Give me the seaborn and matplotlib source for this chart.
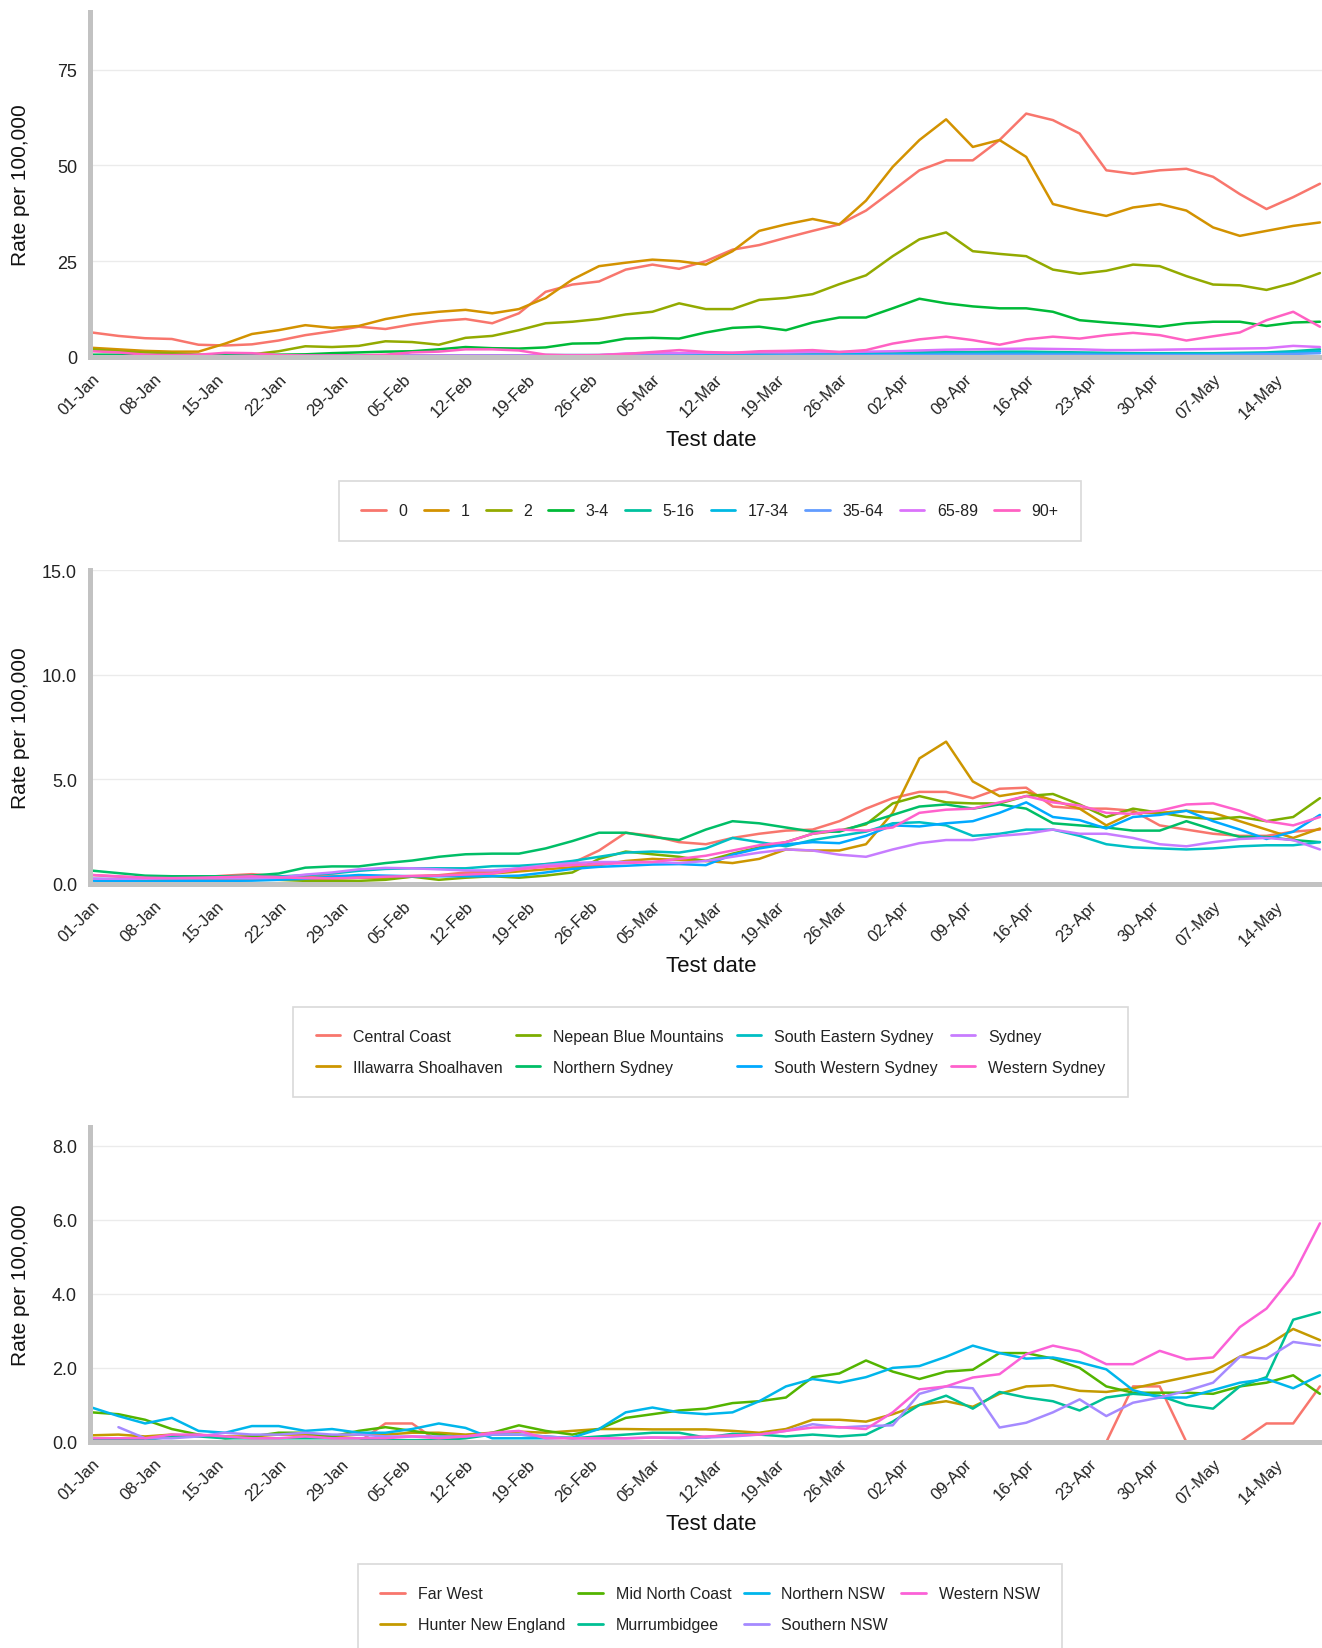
import numpy as np
import pandas as pd
import matplotlib
matplotlib.use('Agg')
import matplotlib.pyplot as plt
import matplotlib.dates as mdates
from matplotlib.ticker import FormatStrFormatter
import seaborn as sns

# ---------------- data ----------------
dates = pd.date_range('2022-01-01', periods=47, freq='3D')
tick_dates = pd.date_range('2022-01-01', '2022-05-14', freq='7D')

age_groups = ['0', '1', '2', '3-4', '5-16', '17-34', '35-64', '65-89', '90+']
age_0 = [6.4, 5.5, 4.9, 4.7, 3.2, 3.0, 3.3, 4.3, 5.7, 6.7,
         7.9, 7.3, 8.5, 9.4, 9.9, 8.8, 11.4, 17.0, 18.9, 19.7,
         22.8, 24.1, 23.0, 25.0, 28.0, 29.2, 31.1, 32.9, 34.6, 38.2,
         43.4, 48.7, 51.3, 51.3, 56.6, 63.5, 61.8, 58.3, 48.7, 47.8,
         48.7, 49.1, 47.0, 42.5, 38.6, 41.7, 45.2]
age_1 = [2.4, 2.0, 1.6, 1.4, 1.4, 3.5, 6.0, 7.0, 8.3, 7.6,
         8.1, 9.9, 11.1, 11.8, 12.3, 11.4, 12.5, 15.4, 20.2, 23.7,
         24.6, 25.4, 25.0, 24.1, 27.6, 32.9, 34.6, 36.0, 34.6, 40.8,
         49.6, 56.6, 62.0, 54.8, 56.6, 52.2, 39.9, 38.2, 36.8, 39.0,
         39.9, 38.2, 33.8, 31.6, 32.9, 34.2, 35.1]
age_2 = [2.0, 1.5, 1.2, 1.0, 0.6, 0.5, 0.7, 1.5, 2.8, 2.6,
         2.9, 4.1, 3.9, 3.2, 5.0, 5.5, 7.0, 8.8, 9.2, 9.9,
         11.1, 11.8, 14.0, 12.5, 12.5, 14.9, 15.4, 16.4, 19.0, 21.3,
         26.3, 30.7, 32.5, 27.6, 26.9, 26.3, 22.8, 21.7, 22.5, 24.1,
         23.7, 21.1, 18.9, 18.7, 17.5, 19.3, 21.9]
age_3_4 = [0.6, 0.6, 0.5, 0.5, 0.5, 0.5, 0.5, 0.6, 0.7, 1.0,
           1.2, 1.4, 1.5, 2.0, 2.6, 2.3, 2.2, 2.5, 3.5, 3.6,
           4.8, 5.0, 4.8, 6.4, 7.6, 7.9, 7.0, 9.0, 10.3, 10.3,
           12.7, 15.2, 14.0, 13.2, 12.7, 12.7, 11.8, 9.6, 9.0, 8.5,
           7.9, 8.8, 9.2, 9.2, 8.1, 9.0, 9.2]
age_5_16 = [0.3, 0.3, 0.3, 0.3, 0.3, 0.3, 0.3, 0.3, 0.3, 0.3,
            0.3, 0.4, 0.4, 0.4, 0.4, 0.4, 0.4, 0.5, 0.5, 0.5,
            0.6, 0.6, 0.7, 0.7, 0.8, 0.8, 0.9, 0.9, 1.0, 1.0,
            1.1, 1.2, 1.3, 1.3, 1.4, 1.4, 1.3, 1.2, 1.1, 1.0,
            1.0, 1.0, 1.0, 1.1, 1.2, 1.5, 2.0]
age_17_34 = [0.2, 0.2, 0.2, 0.2, 0.2, 0.2, 0.2, 0.2, 0.2, 0.2,
             0.2, 0.3, 0.3, 0.3, 0.3, 0.3, 0.3, 0.4, 0.4, 0.4,
             0.4, 0.4, 0.5, 0.5, 0.5, 0.5, 0.6, 0.6, 0.7, 0.7,
             0.8, 0.8, 0.9, 0.9, 1.0, 1.0, 0.9, 0.9, 0.8, 0.8,
             0.8, 0.8, 0.8, 0.9, 1.0, 1.2, 1.5]
age_35_64 = [0.1, 0.1, 0.1, 0.1, 0.1, 0.1, 0.1, 0.1, 0.1, 0.1,
             0.1, 0.2, 0.2, 0.2, 0.2, 0.2, 0.2, 0.2, 0.2, 0.2,
             0.3, 0.3, 0.3, 0.3, 0.3, 0.3, 0.4, 0.4, 0.4, 0.4,
             0.5, 0.5, 0.6, 0.6, 0.6, 0.6, 0.6, 0.6, 0.5, 0.5,
             0.5, 0.5, 0.5, 0.6, 0.7, 0.8, 1.0]
age_65_89 = [0.2, 0.2, 0.2, 0.2, 0.2, 0.2, 0.3, 0.3, 0.3, 0.3,
             0.3, 0.4, 0.4, 0.4, 0.4, 0.4, 0.4, 0.5, 0.5, 0.5,
             0.9, 1.0, 1.0, 1.1, 1.1, 1.2, 1.2, 1.3, 1.3, 1.4,
             1.5, 1.7, 1.9, 2.0, 2.1, 2.2, 2.1, 2.0, 1.8, 1.8,
             1.9, 2.0, 2.1, 2.2, 2.3, 2.9, 2.6]
age_90p = [1.5, 1.2, 0.6, 0.5, 0.6, 1.1, 1.0, 0.5, 0.4, 0.4,
           0.4, 0.6, 1.2, 1.4, 2.0, 2.0, 1.7, 0.6, 0.4, 0.5,
           0.8, 1.3, 1.8, 1.3, 1.1, 1.5, 1.6, 1.8, 1.3, 1.8,
           3.5, 4.6, 5.3, 4.4, 3.2, 4.6, 5.3, 4.8, 5.7, 6.3,
           5.7, 4.3, 5.4, 6.4, 9.6, 11.8, 7.9]

metro_districts = ['Central Coast', 'Illawarra Shoalhaven', 'Nepean Blue Mountains',
                   'Northern Sydney', 'South Eastern Sydney', 'South Western Sydney',
                   'Sydney', 'Western Sydney']
central_coast = [0.43, 0.35, 0.30, 0.28, 0.32, 0.40, 0.47, 0.38, 0.33, 0.40,
                 0.35, 0.35, 0.38, 0.42, 0.55, 0.60, 0.75, 0.95, 1.00, 1.60,
                 2.45, 2.30, 2.00, 1.90, 2.20, 2.40, 2.55, 2.60, 3.00, 3.60,
                 4.10, 4.40, 4.40, 4.10, 4.55, 4.60, 3.70, 3.60, 3.60, 3.50,
                 2.80, 2.60, 2.40, 2.30, 2.30, 2.50, 2.60]
illawarra = [0.20, 0.20, 0.15, 0.20, 0.20, 0.25, 0.25, 0.20, 0.20, 0.25,
             0.30, 0.30, 0.35, 0.40, 0.45, 0.50, 0.60, 0.70, 0.80, 0.90,
             1.10, 1.20, 1.15, 1.10, 1.00, 1.20, 1.65, 1.60, 1.60, 1.90,
             3.40, 6.00, 6.80, 4.90, 4.20, 4.40, 4.00, 3.60, 2.80, 3.40,
             3.40, 3.50, 3.40, 3.00, 2.60, 2.20, 2.65]
nepean = [0.20, 0.18, 0.15, 0.15, 0.15, 0.18, 0.20, 0.20, 0.15, 0.15,
          0.15, 0.20, 0.35, 0.20, 0.30, 0.37, 0.30, 0.40, 0.55, 1.20,
          1.55, 1.42, 1.30, 1.10, 1.45, 1.75, 2.00, 2.40, 2.55, 2.85,
          3.85, 4.20, 3.90, 3.85, 3.85, 4.20, 4.30, 3.80, 3.20, 3.60,
          3.40, 3.20, 3.10, 3.20, 3.00, 3.20, 4.10]
northern_sydney = [0.64, 0.52, 0.40, 0.37, 0.37, 0.37, 0.40, 0.50, 0.78, 0.84,
                   0.84, 1.00, 1.12, 1.30, 1.42, 1.45, 1.45, 1.70, 2.05, 2.45,
                   2.45, 2.25, 2.10, 2.60, 3.00, 2.90, 2.70, 2.50, 2.50, 2.90,
                   3.30, 3.70, 3.80, 3.60, 3.80, 3.60, 2.90, 2.80, 2.70, 2.55,
                   2.55, 3.00, 2.60, 2.25, 2.25, 2.10, 2.00]
south_eastern = [0.25, 0.22, 0.22, 0.25, 0.27, 0.30, 0.32, 0.36, 0.42, 0.50,
                 0.63, 0.72, 0.75, 0.75, 0.75, 0.85, 0.87, 0.95, 1.10, 1.30,
                 1.50, 1.55, 1.50, 1.70, 2.20, 2.00, 1.80, 2.10, 2.30, 2.50,
                 2.90, 2.95, 2.80, 2.30, 2.40, 2.60, 2.60, 2.30, 1.90, 1.75,
                 1.70, 1.65, 1.70, 1.80, 1.85, 1.85, 2.00]
south_western = [0.16, 0.14, 0.12, 0.13, 0.14, 0.15, 0.16, 0.20, 0.25, 0.35,
                 0.43, 0.40, 0.37, 0.37, 0.37, 0.37, 0.40, 0.55, 0.72, 0.82,
                 0.87, 0.93, 0.95, 0.90, 1.40, 1.70, 1.90, 2.00, 1.95, 2.30,
                 2.80, 2.75, 2.90, 3.00, 3.40, 3.90, 3.20, 3.05, 2.65, 3.20,
                 3.30, 3.50, 3.00, 2.60, 2.15, 2.50, 3.30]
sydney = [0.25, 0.25, 0.25, 0.27, 0.27, 0.27, 0.27, 0.30, 0.45, 0.55,
          0.70, 0.77, 0.75, 0.70, 0.65, 0.65, 0.75, 0.90, 1.00, 1.05,
          1.05, 1.05, 1.00, 1.10, 1.30, 1.50, 1.65, 1.60, 1.40, 1.30,
          1.65, 1.95, 2.10, 2.10, 2.30, 2.40, 2.60, 2.40, 2.40, 2.20,
          1.90, 1.80, 2.00, 2.15, 2.20, 2.10, 1.65]
western_sydney = [0.43, 0.37, 0.30, 0.28, 0.30, 0.33, 0.37, 0.32, 0.28, 0.27,
                  0.30, 0.35, 0.38, 0.40, 0.45, 0.50, 0.70, 0.82, 0.90, 0.95,
                  1.00, 1.05, 1.20, 1.35, 1.60, 1.85, 2.00, 2.40, 2.60, 2.55,
                  2.70, 3.40, 3.55, 3.60, 3.90, 4.20, 3.90, 3.75, 3.40, 3.35,
                  3.50, 3.80, 3.85, 3.50, 3.00, 2.80, 3.20]

rural_districts = ['Far West', 'Hunter New England', 'Mid North Coast', 'Murrumbidgee',
                   'Northern NSW', 'Southern NSW', 'Western NSW']
far_west = [0, 0, 0, 0, 0, 0, 0, 0, 0, 0,
            0, 0.5, 0.5, 0, 0, 0, 0, 0, 0, 0,
            0, 0, 0, 0, 0, 0, 0, 0, 0, 0,
            0, 0, 0, 0, 0, 0, 0, 0, 0, 1.5,
            1.5, 0, 0, 0, 0.5, 0.5, 1.5]
hunter_new_england = [0.18, 0.20, 0.15, 0.20, 0.15, 0.15, 0.15, 0.20, 0.20, 0.15,
                      0.20, 0.20, 0.25, 0.25, 0.20, 0.25, 0.28, 0.25, 0.30, 0.35,
                      0.35, 0.34, 0.34, 0.34, 0.30, 0.25, 0.35, 0.60, 0.60, 0.55,
                      0.75, 1.00, 1.10, 0.95, 1.30, 1.50, 1.53, 1.38, 1.35, 1.45,
                      1.60, 1.75, 1.90, 2.30, 2.60, 3.05, 2.75]
mid_north_coast = [0.80, 0.75, 0.60, 0.35, 0.20, 0.10, 0.15, 0.25, 0.25, 0.15,
                   0.30, 0.40, 0.30, 0.20, 0.12, 0.25, 0.45, 0.30, 0.20, 0.35,
                   0.65, 0.75, 0.85, 0.90, 1.05, 1.10, 1.20, 1.75, 1.85, 2.20,
                   1.90, 1.70, 1.90, 1.95, 2.40, 2.40, 2.25, 2.00, 1.50, 1.33,
                   1.33, 1.33, 1.30, 1.50, 1.60, 1.80, 1.30]
murrumbidgee = [0.05, 0.05, 0.05, 0.15, 0.15, 0.10, 0.10, 0.10, 0.10, 0.10,
                0.10, 0.05, 0.05, 0.05, 0.10, 0.20, 0.20, 0.15, 0.10, 0.15,
                0.20, 0.25, 0.25, 0.12, 0.22, 0.20, 0.15, 0.20, 0.15, 0.20,
                0.55, 1.00, 1.25, 0.90, 1.35, 1.20, 1.10, 0.85, 1.20, 1.30,
                1.25, 1.00, 0.90, 1.50, 1.75, 3.30, 3.50]
northern_nsw = [0.93, 0.70, 0.50, 0.65, 0.30, 0.25, 0.43, 0.43, 0.30, 0.35,
                0.25, 0.25, 0.35, 0.50, 0.38, 0.10, 0.10, 0.10, 0.12, 0.35,
                0.80, 0.93, 0.80, 0.75, 0.80, 1.10, 1.50, 1.70, 1.60, 1.75,
                2.00, 2.05, 2.30, 2.60, 2.40, 2.25, 2.28, 2.15, 1.96, 1.40,
                1.20, 1.20, 1.40, 1.60, 1.70, 1.45, 1.80]
southern_nsw = [np.nan, 0.40, 0.10, 0.10, 0.15, 0.25, 0.20, 0.20, 0.25, 0.20,
                0.20, 0.15, 0.15, 0.15, 0.15, 0.20, 0.20, 0.15, 0.10, 0.10,
                0.10, 0.12, 0.10, 0.12, 0.15, 0.20, 0.30, 0.48, 0.39, 0.43,
                0.45, 1.30, 1.50, 1.45, 0.39, 0.52, 0.80, 1.15, 0.70, 1.06,
                1.20, 1.38, 1.60, 2.30, 2.25, 2.70, 2.60]
western_nsw = [0.10, 0.10, 0.10, 0.20, 0.20, 0.15, 0.10, 0.10, 0.15, 0.10,
               0.10, 0.10, 0.15, 0.10, 0.15, 0.25, 0.30, 0.10, 0.10, 0.10,
               0.10, 0.12, 0.12, 0.15, 0.18, 0.20, 0.30, 0.39, 0.40, 0.35,
               0.80, 1.42, 1.50, 1.74, 1.83, 2.37, 2.60, 2.45, 2.10, 2.10,
               2.46, 2.23, 2.28, 3.10, 3.60, 4.50, 5.90]

age_series = [age_0, age_1, age_2, age_3_4, age_5_16, age_17_34, age_35_64, age_65_89, age_90p]
metro_series = [central_coast, illawarra, nepean, northern_sydney, south_eastern,
                south_western, sydney, western_sydney]
rural_series = [far_west, hunter_new_england, mid_north_coast, murrumbidgee,
                northern_nsw, southern_nsw, western_nsw]

pal9 = ['#F8766D', '#D39200', '#93AA00', '#00BA38', '#00C19F', '#00B9E3', '#619CFF', '#DB72FB', '#FF61C3']
pal8 = ['#F8766D', '#CD9600', '#7CAE00', '#00BE67', '#00BFC4', '#00A9FF', '#C77CFF', '#FF61CC']
pal7 = ['#F8766D', '#C49A00', '#53B400', '#00C094', '#00B6EB', '#A58AFF', '#FB61D7']


def long_df(groups, series):
    frames = [pd.DataFrame({'date': dates, 'rate': vals, 'group': g})
              for g, vals in zip(groups, series)]
    return pd.concat(frames, ignore_index=True)


# ---------------- style ----------------
sns.set_style('white')
plt.rcParams['font.family'] = ['Liberation Sans', 'DejaVu Sans']

W, H = 1322, 1649
fig = plt.figure(figsize=(W / 100, H / 100), dpi=100)

AX_LEFT = 89.5
XMIN = pd.Timestamp('2022-01-01') - pd.Timedelta(hours=6)
XMAX = pd.Timestamp('2022-01-01') + pd.Timedelta(days=(W - 91.7) / 8.9)

panels = [
    dict(top=13, bottom=358, ylim=(0, 90), yticks=[0, 25, 50, 75], fmt='%d',
         groups=age_groups, series=age_series, pal=pal9),
    dict(top=571, bottom=885, ylim=(0, 15), yticks=[0, 5, 10, 15], fmt='%.1f',
         groups=metro_districts, series=metro_series, pal=pal8),
    dict(top=1128, bottom=1443, ylim=(0, 8.5), yticks=[0, 2, 4, 6, 8], fmt='%.1f',
         groups=rural_districts, series=rural_series, pal=pal7),
]

for p in panels:
    ax = fig.add_axes([AX_LEFT / W, 1 - p['bottom'] / H, (W - AX_LEFT) / W,
                       (p['bottom'] - p['top']) / H])
    df = long_df(p['groups'], p['series'])
    sns.lineplot(data=df, x='date', y='rate', hue='group', hue_order=p['groups'],
                 palette=p['pal'], estimator=None, linewidth=1.8, ax=ax)
    ax.set_xlim(XMIN, XMAX)
    ax.set_ylim(*p['ylim'])
    ax.set_yticks(p['yticks'])
    ax.yaxis.set_major_formatter(FormatStrFormatter(p['fmt']))
    ax.set_xticks(tick_dates)
    ax.xaxis.set_major_formatter(mdates.DateFormatter('%d-%b'))
    ax.grid(axis='y', color='#ebebeb', linewidth=1.0)
    ax.grid(axis='x', visible=False)
    ax.set_axisbelow(True)
    for s in ['top', 'right']:
        ax.spines[s].set_visible(False)
    for s in ['left', 'bottom']:
        ax.spines[s].set_color('#c2c2c2')
        ax.spines[s].set_linewidth(3.6)
        ax.spines[s].set_zorder(5)
    ax.tick_params(axis='y', length=0, pad=9, labelsize=13, labelcolor='#222222')
    ax.tick_params(axis='x', direction='out', length=5, width=1, color='#222222',
                   pad=5, labelsize=12, labelcolor='#222222')
    for lab in ax.get_xticklabels():
        lab.set_rotation(45)
        lab.set_ha('right')
        lab.set_va('top')
        lab.set_rotation_mode('anchor')
    ax.set_xlabel('Test date', fontsize=16, color='#111111')
    ax.set_ylabel('Rate per 100,000', fontsize=15, color='#111111')
    hgt = p['bottom'] - p['top']
    ax.xaxis.set_label_coords((711 - AX_LEFT) / (W - AX_LEFT), -82 / hgt)
    ax.xaxis.label.set_va('center')
    ax.yaxis.set_label_coords((21 - AX_LEFT) / (W - AX_LEFT), 0.5)
    ax.yaxis.label.set_va('center')
    handles, labels = ax.get_legend_handles_labels()
    if ax.get_legend() is not None:
        ax.get_legend().remove()
    p['handles'] = handles
    p['labels'] = labels

leg_kw = dict(fontsize=11.5, frameon=True, fancybox=False, framealpha=1,
              edgecolor='#d9d9d9', borderpad=1.4, handlelength=1.55,
              handletextpad=0.8, labelspacing=1.0, borderaxespad=0)

for h in panels[0]['handles'] + panels[1]['handles'] + panels[2]['handles']:
    h.set_linewidth(2.0)

l1 = fig.legend(panels[0]['handles'], panels[0]['labels'], loc='center',
                bbox_to_anchor=(710 / W, 1 - 512 / H), ncol=9,
                columnspacing=1.0, **leg_kw)
l2 = fig.legend(panels[1]['handles'], panels[1]['labels'], loc='center',
                bbox_to_anchor=(710.5 / W, 1 - 1053 / H), ncol=4,
                columnspacing=0.8, **leg_kw)
l3 = fig.legend(panels[2]['handles'], panels[2]['labels'], loc='upper center',
                bbox_to_anchor=(710 / W, 1 - 1565 / H), ncol=4,
                columnspacing=0.8, **leg_kw)
for lg in (l1, l2, l3):
    lg.get_frame().set_linewidth(1.2)
    for t in lg.get_texts():
        t.set_color('#222222')

fig.savefig('out.png', dpi=100)
